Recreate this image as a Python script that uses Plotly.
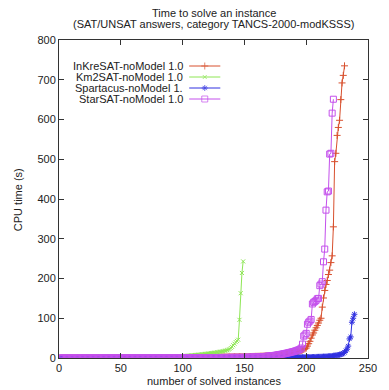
import plotly.graph_objects as go

# ---------------- data (sorted CPU times, s) ----------------
inkresat = [
    0.01,0.01,0.01,0.01,0.01,0.01,0.01,0.02,0.02,0.02,0.02,0.02,0.02,0.02,0.03,0.03,0.03,0.03,0.03,0.03,
    0.04,0.04,0.04,0.04,0.04,0.05,0.05,0.05,0.05,0.06,0.06,0.06,0.06,0.07,0.07,0.07,0.08,0.08,0.08,0.09,
    0.09,0.1,0.1,0.1,0.11,0.11,0.12,0.12,0.13,0.13,0.14,0.14,0.15,0.15,0.16,0.17,0.17,0.18,0.19,0.2,
    0.2,0.21,0.22,0.23,0.24,0.25,0.26,0.27,0.28,0.29,0.3,0.31,0.32,0.34,0.35,0.36,0.38,0.39,0.41,0.42,
    0.44,0.46,0.48,0.5,0.52,0.54,0.56,0.58,0.6,0.63,0.65,0.68,0.7,0.73,0.76,0.79,0.82,0.85,0.88,0.92,
    0.95,0.99,1.0,1.1,1.1,1.2,1.2,1.3,1.3,1.4,1.4,1.5,1.5,1.6,1.6,1.7,1.7,1.8,1.8,1.9,
    1.9,2.0,2.0,2.1,2.1,2.2,2.2,2.3,2.3,2.4,2.4,2.5,2.5,2.6,2.6,2.7,2.7,2.8,2.8,2.9,
    2.9,3.0,3.0,3.1,3.1,3.2,3.2,3.3,3.3,3.4,3.5,3.5,3.6,3.7,3.7,3.8,3.9,4.0,4.1,4.2,
    4.3,4.4,4.5,4.6,4.7,4.9,5.0,5.2,5.3,5.5,5.7,5.9,6.1,6.3,6.6,6.9,7.2,7.5,7.9,8.3,
    8.7,9.1,9.5,9.9,10.4,10.9,11.4,12.0,12.6,13.3,14.0,14.8,15.7,16.7,17.8,19.0,20.3,21.7,23.2,25.0,
    30,36,42,50,58,63,70,76,82,88,
    95,100,128,151,170,185,195,210,221,240,257,330,494,515,560,580,598,650,692,711,735,
]

km2sat = [
    0.1,0.1,0.1,0.1,0.1,0.1,0.1,0.1,0.1,0.1,0.1,0.1,0.1,0.1,0.1,0.1,0.2,0.2,0.2,0.2,
    0.2,0.2,0.2,0.2,0.2,0.2,0.2,0.3,0.3,0.3,0.3,0.3,0.3,0.3,0.3,0.4,0.4,0.4,0.4,0.4,
    0.4,0.5,0.5,0.5,0.5,0.5,0.6,0.6,0.6,0.6,0.7,0.7,0.7,0.7,0.8,0.8,0.8,0.9,0.9,0.9,
    1.0,1.0,1.1,1.1,1.2,1.2,1.3,1.3,1.4,1.4,1.5,1.5,1.6,1.7,1.7,1.8,1.9,2.0,2.0,2.1,
    2.2,2.3,2.4,2.5,2.6,2.7,2.8,2.9,3.0,3.1,3.2,3.3,3.5,3.6,3.8,3.9,4.1,4.3,4.5,4.7,
    5.0,5.3,5.5,5.8,6.0,6.3,6.6,6.9,7.2,7.5,7.8,8.1,8.4,8.7,9.0,9.4,9.8,10.2,10.6,11.0,
    11.4,11.8,12.2,12.6,13.0,13.5,14.0,14.5,15.0,15.5,16.0,16.6,17.2,17.9,18.7,19.6,20.8,22.5,25.0,28.0,
    32,36,40,43,46,96,163,214,243,
]

spartacus = [
    0.01,0.01,0.01,0.01,0.01,0.01,0.01,0.01,0.01,0.01,0.02,0.02,0.02,0.02,0.02,0.02,0.02,0.02,0.02,0.02,
    0.03,0.03,0.03,0.03,0.03,0.03,0.03,0.03,0.04,0.04,0.04,0.04,0.04,0.04,0.04,0.05,0.05,0.05,0.05,0.05,
    0.05,0.06,0.06,0.06,0.06,0.06,0.07,0.07,0.07,0.07,0.07,0.08,0.08,0.08,0.08,0.09,0.09,0.09,0.09,0.1,
    0.1,0.1,0.1,0.11,0.11,0.11,0.12,0.12,0.12,0.13,0.13,0.13,0.14,0.14,0.14,0.15,0.15,0.15,0.16,0.16,
    0.17,0.17,0.17,0.18,0.18,0.19,0.19,0.2,0.2,0.2,0.21,0.21,0.22,0.22,0.23,0.23,0.24,0.24,0.25,0.25,
    0.26,0.26,0.27,0.27,0.28,0.28,0.29,0.3,0.3,0.31,0.31,0.32,0.33,0.33,0.34,0.35,0.35,0.36,0.37,0.37,
    0.38,0.39,0.4,0.4,0.41,0.42,0.43,0.44,0.44,0.45,0.46,0.47,0.48,0.49,0.5,0.51,0.52,0.53,0.54,0.55,
    0.56,0.57,0.58,0.59,0.6,0.62,0.63,0.64,0.65,0.67,0.68,0.69,0.71,0.72,0.74,0.75,0.77,0.78,0.8,0.82,
    0.83,0.85,0.87,0.89,0.91,0.93,0.95,0.97,0.99,1.0,1.0,1.1,1.1,1.1,1.1,1.2,1.2,1.2,1.2,1.3,
    1.3,1.3,1.4,1.4,1.4,1.5,1.5,1.5,1.6,1.6,1.7,1.7,1.8,1.8,1.9,1.9,2.0,2.0,2.1,2.2,
    2.2,2.3,2.3,2.4,2.4,
    2.5,2.6,2.7,2.8,2.9,3.0,3.1,3.3,3.4,3.6,3.8,4.0,4.2,4.5,4.8,5.1,5.5,5.9,6.4,7.0,7.6,8.3,9.0,
    10,12,14,18,22,30,48,53,90,100,110,
]

starsat = [
    0.02,0.02,0.02,0.02,0.02,0.02,0.02,0.03,0.03,0.03,0.03,0.03,0.03,0.03,0.04,0.04,0.04,0.04,0.04,0.04,
    0.05,0.05,0.05,0.05,0.05,0.06,0.06,0.06,0.06,0.07,0.07,0.07,0.07,0.08,0.08,0.08,0.09,0.09,0.09,0.1,
    0.1,0.11,0.11,0.11,0.12,0.12,0.13,0.13,0.14,0.14,0.15,0.15,0.16,0.16,0.17,0.17,0.18,0.19,0.19,0.2,
    0.21,0.21,0.22,0.23,0.23,0.24,0.25,0.26,0.26,0.27,0.28,0.29,0.3,0.31,0.32,0.33,0.34,0.35,0.36,0.37,
    0.38,0.39,0.4,0.41,0.42,0.44,0.45,0.46,0.47,0.49,0.5,0.51,0.53,0.54,0.56,0.57,0.59,0.6,0.62,0.64,
    0.65,0.67,0.69,0.7,0.72,0.74,0.76,0.78,0.8,0.82,0.84,0.86,0.88,0.9,0.92,0.94,0.96,0.98,1.0,1.0,
    1.0,1.1,1.1,1.1,1.1,1.2,1.2,1.2,1.2,1.3,1.3,1.3,1.3,1.3,1.4,1.4,1.4,1.4,1.5,1.5,
    1.5,1.5,1.5,1.5,1.5,1.5,1.5,1.5,1.5,1.5,
    1.6,1.7,1.8,1.9,2.0,2.1,2.2,2.4,2.5,2.7,2.9,3.0,3.2,3.4,3.6,3.8,4.0,4.3,4.6,4.9,
    5.2,5.6,6.0,6.4,6.8,7.3,7.8,8.3,8.9,9.5,10.1,10.7,11.3,12.0,12.7,13.4,14.1,14.9,15.7,16.5,
    17.4,18.4,19.5,20.7,22.0,25,35,
    55,58,62,85,90,93,97,
    136,140,142,145,149,150,182,186,
    192,242,274,372,418,420,513,515,616,651,
]

series_names = ["InKreSAT-noModel 1.0", "Km2SAT-noModel 1.0",
                "Spartacus-noModel 1.", "StarSAT-noModel 1.0"]
series_values = [inkresat, km2sat, spartacus, starsat]

x_ticks = [0, 50, 100, 150, 200, 250]
y_ticks = [0, 100, 200, 300, 400, 500, 600, 700, 800]

title_lines = ["Time to solve an instance",
               "(SAT/UNSAT answers, category TANCS-2000-modKSSS)"]
x_title = "number of solved instances"
y_title = "CPU time (s)"

# ---------------- styles ----------------
colors = ["#d8502e", "#8ee655", "#3030e0", "#c450ec"]
symbols = ["cross-thin", "x-thin", "asterisk", "square-open"]
msizes = [5, 4, 5, 6]
FONT = "Liberation Sans, Arial, sans-serif"

W, H = 389, 390
L, R, T, B = 59, 12, 40, 32
PW, PH = W - L - R, H - T - B

fig = go.Figure()
for name, vals, c, s, ms in zip(series_names, series_values, colors, symbols, msizes):
    fig.add_trace(go.Scatter(
        x=list(range(1, len(vals) + 1)), y=vals, name=name,
        mode="lines+markers",
        line=dict(color=c, width=1),
        marker=dict(symbol=s, size=ms, color=c, line=dict(color=c, width=1)),
        showlegend=False,
    ))

# legend drawn manually (text right-aligned, sample on the right, like gnuplot)
def px_x(px):
    return (px - L) / PW

def px_y(py):
    return (H - B - py) / PH

leg_y = [66, 77, 88, 99]
for i, (name, c, s, ms) in enumerate(zip(series_names, colors, symbols, msizes)):
    yy = px_y(leg_y[i])
    fig.add_annotation(x=px_x(189), y=yy, xref="paper", yref="paper",
                       text=name, showarrow=False, xanchor="right", yanchor="middle",
                       font=dict(family=FONT, size=11, color="#222"))
    fig.add_trace(go.Scatter(
        x=[px_x(193), px_x(209), px_x(225)], y=[yy, yy, yy],
        xaxis="x2", yaxis="y2", mode="lines+markers",
        line=dict(color=c, width=1),
        marker=dict(symbol=s, size=[0, ms, 0], color=c, line=dict(color=c, width=1)),
        showlegend=False, hoverinfo="skip",
    ))

for i, (t, py) in enumerate(zip(title_lines, [13, 24])):
    fig.add_annotation(x=px_x(218), y=px_y(py), xref="paper", yref="paper",
                       text=t, showarrow=False, xanchor="center", yanchor="middle",
                       font=dict(family=FONT, size=11, color="#222"))

fig.add_annotation(x=px_x(218), y=px_y(381), xref="paper", yref="paper",
                   text=x_title, showarrow=False, xanchor="center", yanchor="middle",
                   font=dict(family=FONT, size=11, color="#222"))
fig.add_annotation(x=px_x(17), y=px_y(200), xref="paper", yref="paper",
                   text=y_title, showarrow=False, textangle=-90,
                   xanchor="center", yanchor="middle",
                   font=dict(family=FONT, size=11, color="#222"))

axis_common = dict(showgrid=False, zeroline=False, showline=True, linecolor="#333",
                   linewidth=1, ticks="inside", ticklen=5, tickcolor="#333",
                   mirror="ticks", tickfont=dict(family=FONT, size=11, color="#222"))

fig.update_layout(
    width=W, height=H,
    margin=dict(l=L, r=R, t=T, b=B, pad=0),
    paper_bgcolor="white", plot_bgcolor="white",
    showlegend=False,
    xaxis=dict(range=[0, 250], tickvals=x_ticks, **axis_common),
    yaxis=dict(range=[0, 800], tickvals=y_ticks, **axis_common),
    xaxis2=dict(range=[0, 1], overlaying="x", visible=False),
    yaxis2=dict(range=[0, 1], overlaying="y", visible=False),
)

fig.write_html(
    "out.html",
    config={"displayModeBar": False},
    post_script="document.body.style.margin='0';document.body.style.padding='0';",
)
